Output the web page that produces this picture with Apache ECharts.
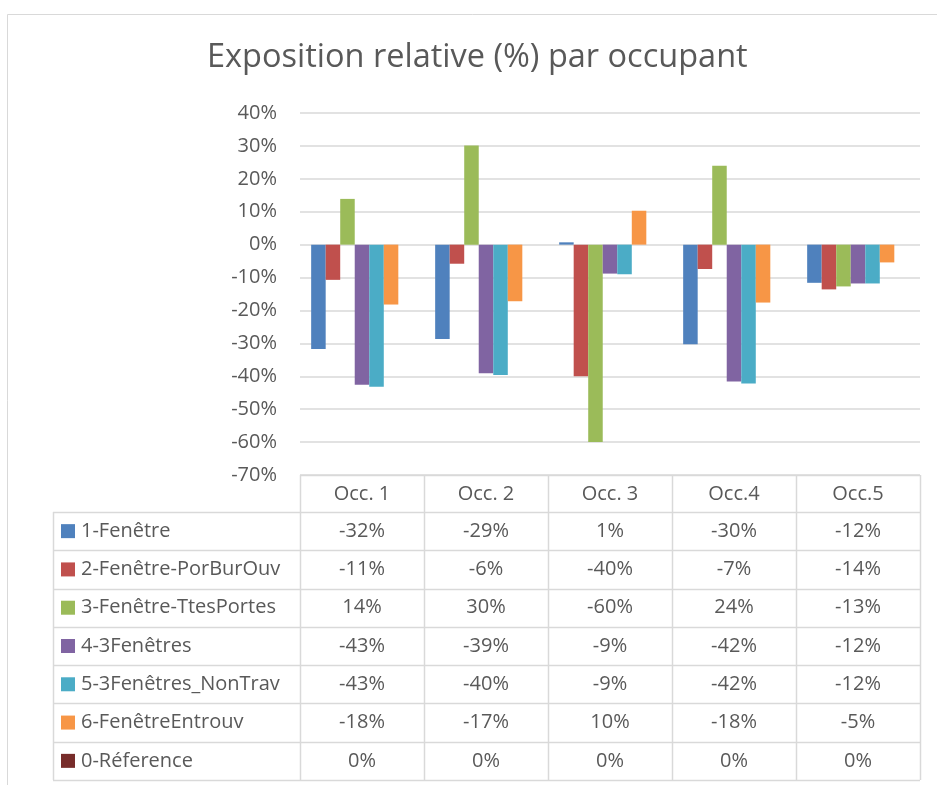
<!DOCTYPE html>
<html><head><meta charset="utf-8">
<script src="https://cdn.jsdelivr.net/npm/echarts@6/dist/echarts.min.js"></script>
<style>html,body{margin:0;padding:0;background:#fff}#c{width:937px;height:785px}</style>
</head><body><div id="c"></div>
<script>
// ---- data ----
const categories = ['Occ. 1', 'Occ. 2', 'Occ. 3', 'Occ.4', 'Occ.5'];
const seriesNames = ['1-Fenêtre', '2-Fenêtre-PorBurOuv', '3-Fenêtre-TtesPortes', '4-3Fenêtres', '5-3Fenêtres_NonTrav', '6-FenêtreEntrouv', '0-Réference'];
const fenetre = [-31.7, -28.7, 0.7, -30.3, -11.6];
const porBurOuv = [-10.7, -5.8, -40.0, -7.4, -13.6];
const ttesPortes = [13.9, 30.1, -60.0, 24.0, -12.7];
const troisFenetres = [-42.6, -39.1, -8.8, -41.6, -11.8];
const troisFenetresNonTrav = [-43.2, -39.6, -9.0, -42.2, -11.8];
const fenetreEntrouv = [-18.2, -17.2, 10.3, -17.6, -5.4];
const reference = [0, 0, 0, 0, 0];
const yMin = -70, yMax = 40, yStep = 10;
const title = 'Exposition relative (%) par occupant';

const seriesData = [fenetre, porBurOuv, ttesPortes, troisFenetres, troisFenetresNonTrav, fenetreEntrouv, reference];
const colors = ['#4F81BD', '#C0504D', '#9BBB59', '#8064A2', '#4BACC6', '#F79646', '#772C2A'];

// ---- layout ----
const W = 937, H = 785;
const gL = 300, gR = 920, gT = 113, gB = 475;
const tableLeft = 53, headerBottom = 512, tableBottom = 780;
const rowH = (tableBottom - headerBottom) / seriesNames.length;
const colW = (gR - gL) / categories.length;
const lineColor = '#D9D9D9';
const textColor = '#595959';
const font = '"Open Sans", sans-serif';
const fs = 20;

const chart = echarts.init(document.getElementById('c'));

const graphics = [];
graphics.push({type: 'rect', shape: {x: 7.5, y: 14.5, width: 1000, height: 1000}, style: {fill: 'none', stroke: lineColor, lineWidth: 1}, silent: true});
graphics.push({type: 'line', shape: {x1: gL, y1: gB + 0.5, x2: gR, y2: gB + 0.5}, style: {stroke: lineColor, lineWidth: 1.5}});
for (let i = 0; i <= seriesNames.length; i++) {
  const y = Math.round(headerBottom + i * rowH) + 0.5;
  graphics.push({type: 'line', shape: {x1: tableLeft, y1: y, x2: gR, y2: y}, style: {stroke: lineColor, lineWidth: 1.5}});
}
graphics.push({type: 'line', shape: {x1: tableLeft + 0.5, y1: headerBottom, x2: tableLeft + 0.5, y2: tableBottom}, style: {stroke: lineColor, lineWidth: 1.5}});
for (let k = 0; k <= categories.length; k++) {
  const x = Math.round(gL + k * colW) + 0.5;
  graphics.push({type: 'line', shape: {x1: x, y1: gB, x2: x, y2: tableBottom}, style: {stroke: lineColor, lineWidth: 1.5}});
}
seriesNames.forEach((name, i) => {
  const cy = headerBottom + i * rowH + rowH / 2;
  graphics.push({type: 'rect', shape: {x: 61, y: cy - 7, width: 14, height: 14}, style: {fill: colors[i]}});
  graphics.push({type: 'text', x: 81, y: cy, style: {text: name, fill: textColor, font: fs + 'px ' + font, textVerticalAlign: 'middle', textAlign: 'left'}});
  seriesData[i].forEach((v, j) => {
    graphics.push({type: 'text', x: gL + j * colW + colW / 2, y: cy, style: {text: Math.round(v) + '%', fill: textColor, font: fs + 'px ' + font, textVerticalAlign: 'middle', textAlign: 'center'}});
  });
});

chart.setOption({
  animation: false,
  backgroundColor: '#fff',
  title: {text: title, left: 207, top: 41, padding: 0, textStyle: {color: textColor, fontSize: 32.5, fontWeight: 'normal', fontFamily: font}},
  grid: {left: gL, right: W - gR, top: gT, bottom: H - gB, containLabel: false},
  xAxis: {
    type: 'category', data: categories,
    axisLine: {show: false}, axisTick: {show: false},
    axisLabel: {color: textColor, fontSize: fs, fontFamily: font, margin: 19, verticalAlign: 'middle'}
  },
  yAxis: {
    type: 'value', min: yMin, max: yMax, interval: yStep,
    axisLine: {show: false}, axisTick: {show: false},
    axisLabel: {color: textColor, fontSize: fs, fontFamily: font, margin: 23, formatter: '{value}%'},
    splitLine: {lineStyle: {color: lineColor, width: 1.5}}
  },
  series: seriesNames.map((n, i) => ({
    name: n, type: 'bar', data: seriesData[i],
    itemStyle: {color: colors[i]},
    barGap: '0%', barCategoryGap: '18%'
  })),
  graphic: graphics
});
</script></body></html>
